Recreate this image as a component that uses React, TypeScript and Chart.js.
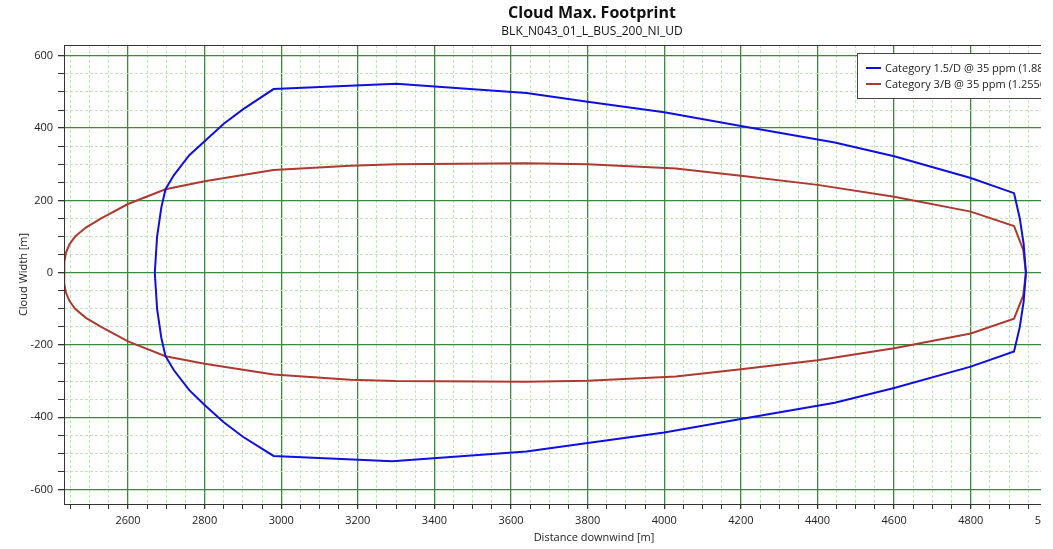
import React, { useEffect, useRef } from "react";
import { Chart, registerables } from "chart.js";

Chart.register(...registerables);

const FONT = "'Open Sans', 'Noto Sans', sans-serif";

const titleText = "Cloud Max. Footprint";
const subtitleText = "BLK_N043_01_L_BUS_200_NI_UD";
const xTitle = "Distance downwind [m]";
const yTitle = "Cloud Width [m]";

const legendLabels = [
  "Category 1.5/D @ 35 ppm (1.88E+03 s)",
  "Category 3/B @ 35 ppm (1.2556E+03 s)",
];

// Category 1.5/D — upper edge (left to right)
const blueUpperX = [2670, 2676, 2687, 2698, 2720, 2760, 2800, 2850, 2900, 2980, 3300, 3640, 3800, 4000, 4200, 4445, 4600, 4800, 4913, 4928, 4938, 4944];
const blueUpperY = [0, 100, 180, 231, 270, 325, 364, 412, 452, 508, 523, 497, 473, 444, 406, 360, 322, 262, 220, 150, 80, 0];
// Category 1.5/D — lower edge (left to right)
const blueLowerX = [2670, 2676, 2687, 2698, 2720, 2760, 2800, 2850, 2900, 2980, 3290, 3640, 3800, 4000, 4200, 4445, 4600, 4800, 4913, 4928, 4938, 4944];
const blueLowerY = [0, -100, -180, -231, -270, -325, -366, -414, -454, -507, -522, -495, -471, -442, -405, -360, -319, -260, -218, -150, -80, 0];

// Category 3/B — upper edge (left to right)
const redUpperX = [2433, 2434, 2438, 2447, 2462, 2490, 2530, 2600, 2698, 2800, 2980, 3180, 3300, 3640, 3800, 4030, 4200, 4400, 4600, 4800, 4913, 4937, 4944];
const redUpperY = [0, 30, 55, 78, 100, 125, 150, 190, 231, 253, 284, 296, 300, 303, 300, 288, 268, 243, 210, 169, 129, 63, 0];
// Category 3/B — lower edge (left to right)
const redLowerX = [2433, 2434, 2438, 2447, 2462, 2490, 2530, 2600, 2698, 2800, 2980, 3180, 3300, 3640, 3800, 4030, 4200, 4400, 4600, 4800, 4913, 4937, 4944];
const redLowerY = [0, -30, -55, -78, -100, -125, -150, -190, -231, -252, -282, -296, -300, -302, -299, -287, -267, -242, -209, -168, -127, -63, 0];

const BLUE = "#0f0fe0";
const RED = "#ad3a32";
const MAJOR = "#3b893b";
const MINOR = "#c0e6b6";

function outline(ux: number[], uy: number[], lx: number[], ly: number[]) {
  const pts: { x: number; y: number }[] = [];
  for (let i = ux.length - 1; i >= 0; i--) pts.push({ x: ux[i], y: uy[i] });
  for (let i = 1; i < lx.length; i++) pts.push({ x: lx[i], y: ly[i] });
  return pts;
}

const isMajor = (ctx: any) => ctx && ctx.tick && Math.abs(ctx.tick.value % 200) < 1e-9;

const decorPlugin = {
  id: "decor",
  afterDraw(chart: any) {
    const c = chart.ctx;
    const a = chart.chartArea;
    c.save();
    // plot frame
    c.strokeStyle = "#333";
    c.lineWidth = 1;
    c.strokeRect(a.left + 0.5, a.top + 0.5, a.right - a.left - 1, a.bottom - a.top);
    // titles
    c.fillStyle = "#111";
    c.textAlign = "center";
    c.textBaseline = "middle";
    c.font = `bold 16px ${FONT}`;
    c.fillText(titleText, 592, 13);
    c.font = `12px ${FONT}`;
    c.fillText(subtitleText, 592, 32);
    // legend box
    const lx = 857, ly = 53, lw = 260, lh = 45;
    c.fillStyle = "#fff";
    c.fillRect(lx, ly, lw, lh);
    c.strokeStyle = "#444";
    c.lineWidth = 1;
    c.strokeRect(lx + 0.5, ly + 0.5, lw, lh);
    const colors = [BLUE, RED];
    c.font = `11px ${FONT}`;
    c.textAlign = "left";
    legendLabels.forEach((t, i) => {
      const y = 68 + i * 16;
      c.strokeStyle = colors[i];
      c.lineWidth = 2;
      c.beginPath();
      c.moveTo(866, y);
      c.lineTo(881, y);
      c.stroke();
      c.fillStyle = "#222";
      c.fillText(t, 885, y + 0.5);
    });
    c.restore();
  },
};

export default function App() {
  const ref = useRef<HTMLCanvasElement>(null);
  useEffect(() => {
    if (!ref.current) return;
    const chart = new Chart(ref.current, {
      type: "scatter",
      data: {
        datasets: [
          {
            label: legendLabels[0],
            data: outline(blueUpperX, blueUpperY, blueLowerX, blueLowerY),
            showLine: true,
            borderColor: BLUE,
            backgroundColor: BLUE,
            borderWidth: 2,
            pointRadius: 0,
            tension: 0,
          },
          {
            label: legendLabels[1],
            data: outline(redUpperX, redUpperY, redLowerX, redLowerY),
            showLine: true,
            borderColor: RED,
            backgroundColor: RED,
            borderWidth: 2,
            pointRadius: 0,
            tension: 0,
          },
        ],
      },
      options: {
        responsive: false,
        animation: false,
        events: [],
        layout: { padding: { top: 45, left: 0, right: 60, bottom: 0 } },
        plugins: {
          legend: { display: false },
          title: { display: false },
          tooltip: { enabled: false },
        },
        scales: {
          x: {
            type: "linear",
            min: 2433,
            max: 5200,
            afterFit: (s: any) => {
              s.height = 45;
            },
            ticks: {
              stepSize: 50,
              includeBounds: false,
              autoSkip: false,
              maxRotation: 0,
              minRotation: 0,
              padding: 5,
              color: "#222",
              font: { family: FONT, size: 11 },
              callback: (v: any) => (Math.abs(Number(v) % 200) < 1e-9 ? String(v) : ""),
            },
            grid: {
              color: (ctx: any) => (isMajor(ctx) ? MAJOR : MINOR),
              lineWidth: (ctx: any) => (isMajor(ctx) ? 1.3 : 1),
              tickColor: "#333",
              tickLength: 5,
            },
            border: {
              color: "#333",
              width: 1,
              dash: (ctx: any) => (ctx && ctx.tick && !isMajor(ctx) ? [3, 2] : []),
            },
            title: {
              display: true,
              text: xTitle,
              color: "#222",
              font: { family: FONT, size: 11 },
              padding: { top: 0, bottom: 5 },
            },
          },
          y: {
            type: "linear",
            min: -640,
            max: 630,
            afterFit: (s: any) => {
              s.width = 64;
            },
            ticks: {
              stepSize: 50,
              includeBounds: false,
              autoSkip: false,
              padding: 5,
              color: "#222",
              font: { family: FONT, size: 11 },
              callback: (v: any) => (Math.abs(Number(v) % 200) < 1e-9 ? String(v) : ""),
            },
            grid: {
              color: (ctx: any) => (isMajor(ctx) ? MAJOR : MINOR),
              lineWidth: (ctx: any) => (isMajor(ctx) ? 1.3 : 1),
              tickColor: "#333",
              tickLength: 6,
            },
            border: {
              color: "#333",
              width: 1,
              dash: (ctx: any) => (ctx && ctx.tick && !isMajor(ctx) ? [3, 2] : []),
            },
            title: {
              display: true,
              text: yTitle,
              color: "#222",
              font: { family: FONT, size: 11 },
              padding: { top: 17, bottom: 0 },
            },
          },
        },
      },
      plugins: [decorPlugin],
    } as any);
    return () => chart.destroy();
  }, []);

  return (
    <div
      style={{
        position: "absolute",
        left: 0,
        top: 0,
        width: 1041,
        height: 549,
        overflow: "hidden",
        background: "#fff",
      }}
    >
      <canvas ref={ref} width={1184} height={549} style={{ display: "block" }} />
    </div>
  );
}
